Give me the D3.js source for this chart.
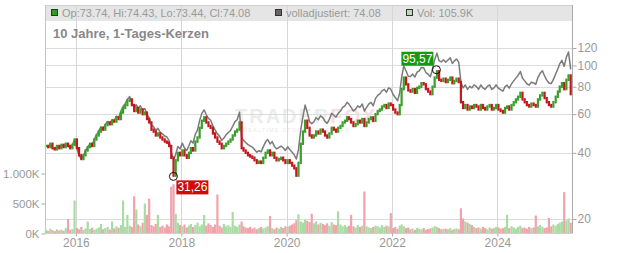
<!DOCTYPE html>
<html>
<head>
<meta charset="utf-8">
<script src="https://cdn.jsdelivr.net/npm/d3@7"></script>
<style>
  html, body { margin: 0; padding: 0; background: #fff; }
  svg { display: block; font-family: "Liberation Sans", Arial, sans-serif; }
</style>
</head>
<body>
<svg id="chart" width="632" height="253"></svg>
<script>
// half-monthly closes (1st and 16th of each month), Jun 2015 - May 2025
const closes2015 = [43, 42.5, 44, 42, 41.5, 43, 42, 43.5, 42.5, 44, 43, 42, 43.5, 46];
const closes2016 = [42, 39, 37.5, 39, 41, 42.5, 44, 43, 46, 48, 50, 52, 51, 53.5, 55, 54, 56, 55.5, 58, 57, 61, 64, 66, 69];
const closes2017 = [70, 66, 62, 64, 61, 63, 60, 61, 57, 55, 51, 50, 48, 49, 47, 46, 45, 44.5, 43, 38, 31.5, 37, 40, 39];
const closes2018 = [41, 39, 38, 40, 42, 41, 45, 47, 52, 56, 58, 55, 53, 52, 49, 47, 45, 44, 42, 43, 44, 45, 46, 48];
const closes2019 = [50, 51, 55, 42, 41, 40, 39, 38.5, 38, 37, 36, 36.5, 36, 38, 40, 41, 39, 40, 38, 37, 37.5, 38, 37, 36];
const closes2020 = [37, 36, 35, 34, 31.5, 36, 44, 50, 56, 52, 48, 47, 48, 50, 49, 51, 50, 48, 47, 49, 52, 51, 50, 52];
const closes2021 = [53, 55, 56, 58, 57, 55, 53, 54, 56, 55, 57, 53, 55, 57, 58, 56, 60, 62, 63, 65, 66, 64, 67, 66];
const closes2022 = [63, 61, 60, 66, 78, 88, 82, 77, 76, 78, 75, 79, 80, 83, 82, 78, 76, 74, 80, 88, 94, 86, 85, 87];
const closes2023 = [84, 86, 88, 83, 85, 87, 84, 68, 64, 66, 63, 65, 64, 66, 65, 63, 66, 64, 63, 65, 66, 63, 64, 66];
const closes2024 = [63, 62, 61, 64, 65, 63, 66, 68, 70, 72, 75, 70, 68, 66, 65, 67, 66, 65, 70, 73, 75, 71, 68, 66];
const closes2025 = [65, 68, 72, 76, 80, 83, 78, 86, 90, 74];

// "volladjustiert" line
const adj2015 = [43, 42.5, 44, 42, 41.5, 43, 42, 43.5, 42.5, 44, 43, 42, 43.5, 46];
const adj2016 = [42, 39, 37.5, 39, 41, 42.5, 44, 43.2, 46.2, 48.3, 50.4, 52.5, 51.5, 54, 55.6, 54.6, 56.7, 56.2, 58.8, 57.8, 61.9, 65, 67, 70.2];
const adj2017 = [72.1, 68, 64.2, 66.2, 63.4, 65.5, 62.4, 63.7, 59.6, 57.8, 53.6, 52.5, 50.6, 51.7, 49.6, 48.8, 47.7, 47.2, 45.6, 40.5, 37, 39.4, 42.8, 41.7];
const adj2018 = [44.3, 42.1, 41, 43.2, 45.4, 44.3, 48.6, 50.8, 56.2, 60.5, 62.8, 59.6, 57.4, 56.3, 53.1, 50.9, 48.8, 47.7, 45.6, 46.7, 48.4, 49.5, 50.6, 52.8];
const adj2019 = [55.5, 56.6, 61.3, 46.8, 45.7, 44.6, 43.6, 43, 42.5, 41.4, 40.3, 40.9, 40.4, 42.6, 44.9, 46, 43.9, 45, 42.8, 41.7, 42.3, 42.9, 42.2, 41];
const adj2020 = [42.6, 41.4, 40.3, 39.1, 37.5, 41.4, 51, 58.5, 66, 61, 55.4, 54.3, 55.4, 57.8, 56.6, 59, 57.9, 55.6, 54.5, 56.8, 60.5, 59.3, 58.2, 60.5];
const adj2021 = [62, 64.4, 65.5, 67.9, 66.7, 64.4, 62, 63.2, 65.5, 64.4, 66.7, 62, 64.4, 66.7, 67.9, 65.5, 70.6, 73, 74.2, 76.6, 77.8, 75.5, 79, 77.9];
const adj2022 = [73.7, 71.4, 69, 75.2, 88.1, 99.4, 94.3, 89.3, 88.9, 91.3, 88.5, 93.2, 94.4, 97.9, 97.6, 92.8, 91.2, 88.8, 96, 106.5, 113.7, 104.9, 103.7, 106.1];
const adj2023 = [103.3, 105.8, 108.2, 102.1, 104.6, 107, 103.3, 84, 79, 81.5, 77.8, 80.3, 79, 81.5, 80.3, 77.8, 81.5, 79, 77.8, 80.3, 81.5, 77.8, 79, 81.5];
const adj2024 = [78.8, 77.5, 76.3, 80, 81.3, 78.8, 82.5, 85, 87.5, 90, 93.8, 87.5, 85, 82.5, 81.3, 83.8, 83.2, 82, 88.2, 92, 94.5, 89.5, 85.7, 83.2];
const adj2025 = [82.6, 86.4, 91.4, 96.5, 101.6, 105.4, 99, 109, 115, 96];

// volume in thousands
const vol2015 = [60, 45, 80, 55, 40, 70, 50, 65, 45, 90, 240, 60, 75, 550];
const vol2016 = [90, 70, 110, 60, 85, 200, 75, 95, 60, 80, 100, 160, 70, 90, 110, 65, 200, 85, 120, 95, 140, 550, 110, 310];
const vol2017 = [130, 110, 620, 400, 150, 120, 180, 500, 310, 580, 140, 120, 160, 310, 110, 130, 100, 150, 120, 780, 820, 330, 180, 140];
const vol2018 = [120, 150, 100, 130, 160, 110, 140, 180, 120, 150, 310, 130, 170, 140, 110, 150, 650, 130, 100, 160, 120, 140, 110, 360];
const vol2019 = [130, 110, 150, 200, 120, 100, 90, 110, 80, 100, 70, 90, 110, 80, 100, 120, 290, 90, 70, 100, 80, 110, 90, 120];
const vol2020 = [110, 130, 150, 170, 220, 320, 200, 180, 230, 210, 190, 330, 170, 200, 150, 180, 160, 140, 170, 130, 190, 150, 140, 370];
const vol2021 = [150, 120, 140, 110, 130, 310, 120, 100, 140, 110, 130, 700, 120, 100, 90, 110, 130, 120, 100, 140, 110, 130, 120, 340];
const vol2022 = [90, 110, 80, 130, 150, 120, 90, 100, 70, 85, 60, 95, 80, 70, 90, 60, 75, 85, 100, 120, 110, 90, 70, 80];
const vol2023 = [80, 70, 90, 60, 75, 85, 70, 420, 250, 200, 180, 160, 140, 110, 90, 100, 80, 110, 90, 70, 100, 80, 90, 110];
const vol2024 = [100, 80, 90, 110, 310, 90, 120, 100, 80, 110, 130, 90, 100, 80, 110, 90, 100, 300, 120, 140, 110, 90, 100, 260];
const vol2025 = [120, 150, 130, 160, 180, 200, 690, 220, 250, 180];

const yearTicks = [2016, 2018, 2020, 2022, 2024];
const priceTicks = [20, 40, 60, 80, 100, 120];
const volumeTicks = [0, 500, 1000];
const volumeTickLabels = ['0K', '500K', '1.000K'];

const legendItems = [
  {text: 'Op:73.74, Hi:74.43, Lo:73.44, Cl:74.08', color: '#2e9e22', x: 51},
  {text: 'volladjustiert: 74.08', color: '#666666', x: 275},
  {text: 'Vol: 105.9K', color: '#b4e0ae', x: 406}
];
const title = '10 Jahre, 1-Tages-Kerzen';

const extremes = [
  {date: new Date(2017, 10, 7), value: 31.26, label: '31,26', kind: 'low'},
  {date: new Date(2022, 10, 4), value: 95.57, label: '95,57', kind: 'high'}
];

const closes = [].concat(closes2015, closes2016, closes2017, closes2018, closes2019, closes2020,
  closes2021, closes2022, closes2023, closes2024, closes2025);
const adjusted = [].concat(adj2015, adj2016, adj2017, adj2018, adj2019, adj2020,
  adj2021, adj2022, adj2023, adj2024, adj2025);
const volumes = [].concat(vol2015, vol2016, vol2017, vol2018, vol2019, vol2020,
  vol2021, vol2022, vol2023, vol2024, vol2025);

const rows = closes.map((c, i) => {
  const d = new Date(2015, 5 + Math.floor(i / 2), i % 2 ? 16 : 1);
  return {
    date: d3.timeDay.offset(d, 7),
    open: i === 0 ? c : closes[i - 1],
    close: c,
    adj: adjusted[i],
    vol: volumes[i]
  };
});

const plotLeft = 45, plotRight = 572, plotTop = 5, plotBottom = 233.5;
const svg = d3.select('#chart');

const x = d3.scaleTime()
  .domain([new Date(2015, 5, 1), new Date(2025, 5, 1)])
  .range([plotLeft, plotRight]);
const y = d3.scaleLog().domain([20, 120]).range([219, 48]);
const yv = d3.scaleLinear().domain([0, 1000]).range([plotBottom, 173.5]);

const GREEN = '#3a9e2a', RED = '#c8141c';

// header band
svg.append('rect')
  .attr('x', plotLeft).attr('y', plotTop)
  .attr('width', plotRight - plotLeft).attr('height', 16)
  .attr('fill', '#e5e5e5');

// watermark
const wm = svg.append('g').attr('opacity', 0.9);
wm.append('text')
  .attr('x', 235).attr('y', 123)
  .attr('font-size', 20).attr('font-weight', 'bold')
  .attr('letter-spacing', 2)
  .attr('fill', '#ebebeb')
  .text('TRADER')
  .append('tspan').attr('fill', '#f8dcdc').text('FOX');
wm.append('text')
  .attr('x', 243).attr('y', 132)
  .attr('font-size', 5.5).attr('letter-spacing', 1.2)
  .attr('fill', '#e8e8e8')
  .text('REALTIME STOCK SCREENER');

// grid
svg.append('g').selectAll('line')
  .data(priceTicks)
  .enter().append('line')
  .attr('x1', plotLeft).attr('x2', plotRight)
  .attr('y1', d => Math.round(y(d)) + 0.5).attr('y2', d => Math.round(y(d)) + 0.5)
  .attr('stroke', '#dcdcdc');

svg.append('g').selectAll('line')
  .data(yearTicks)
  .enter().append('line')
  .attr('x1', d => Math.round(x(new Date(d, 0, 1))) + 0.5)
  .attr('x2', d => Math.round(x(new Date(d, 0, 1))) + 0.5)
  .attr('y1', plotTop).attr('y2', plotBottom)
  .attr('stroke', '#d6d6d6');

// volume
svg.append('g').selectAll('rect')
  .data(rows)
  .enter().append('rect')
  .attr('x', d => x(d.date) - 1.1)
  .attr('y', d => yv(d.vol))
  .attr('width', 2.2)
  .attr('height', d => plotBottom - yv(d.vol))
  .attr('fill', d => d.close >= d.open ? '#a9dca2' : '#f0a3ab');

// adjusted line
svg.append('path')
  .datum(rows)
  .attr('fill', 'none')
  .attr('stroke', '#7a7a7a')
  .attr('stroke-width', 1.5)
  .attr('stroke-linejoin', 'round')
  .attr('d', d3.line().x(d => x(d.date)).y(d => y(d.adj)));

// candles
svg.append('g').selectAll('rect')
  .data(rows)
  .enter().append('rect')
  .attr('x', d => x(d.date) - 1.1)
  .attr('width', 2.2)
  .attr('y', d => y(Math.max(d.open, d.close)) - 1.2)
  .attr('height', d => Math.abs(y(d.open) - y(d.close)) + 2.4)
  .attr('fill', d => d.close >= d.open ? GREEN : RED);

// frame
svg.append('line').attr('x1', plotLeft).attr('x2', plotRight).attr('y1', plotTop + 0.5).attr('y2', plotTop + 0.5).attr('stroke', '#cfcfcf');
svg.append('line').attr('x1', plotLeft + 0.5).attr('x2', plotLeft + 0.5).attr('y1', plotTop).attr('y2', plotBottom).attr('stroke', '#c4c4c4');
svg.append('line').attr('x1', plotRight + 0.5).attr('x2', plotRight + 0.5).attr('y1', plotTop).attr('y2', plotBottom).attr('stroke', '#aaa');
svg.append('line').attr('x1', plotLeft).attr('x2', plotRight).attr('y1', plotBottom).attr('y2', plotBottom).attr('stroke', '#cfcfcf');

// axes
function styleAxis(g, size) {
  g.select('.domain').remove();
  g.selectAll('.tick line').attr('stroke', '#aaa');
  g.selectAll('.tick text').attr('fill', '#999').attr('font-size', size);
  g.attr('font-family', null);
}

svg.append('g')
  .attr('transform', 'translate(' + (plotRight + 0.5) + ',0)')
  .call(d3.axisRight(y).tickValues(priceTicks).tickSize(4).tickPadding(1).tickFormat(d3.format('d')))
  .call(g => styleAxis(g, 12));

svg.append('g')
  .attr('transform', 'translate(' + (plotLeft + 0.5) + ',0)')
  .call(d3.axisLeft(yv).tickValues(volumeTicks).tickSize(4).tickPadding(2)
    .tickFormat((d, i) => volumeTickLabels[i]))
  .call(g => styleAxis(g, 11.5));

svg.append('g')
  .attr('transform', 'translate(0,' + plotBottom + ')')
  .call(d3.axisBottom(x).tickValues(yearTicks.map(d => new Date(d, 0, 1)))
    .tickSize(3).tickPadding(2).tickFormat(d3.timeFormat('%Y')))
  .call(g => styleAxis(g, 12));

// extremes
extremes.forEach(e => {
  const cx = x(e.date), cy = y(e.value);
  svg.append('circle')
    .attr('cx', cx).attr('cy', cy).attr('r', 4)
    .attr('fill', 'none').attr('stroke', '#111').attr('stroke-width', 1);
  const w = 32, h = 14;
  const bx = e.kind === 'low' ? cx + 3 : cx - 3 - w;
  const by = e.kind === 'low' ? cy + 4 : cy - 4 - h;
  svg.append('rect')
    .attr('x', bx).attr('y', by).attr('width', w).attr('height', h)
    .attr('fill', e.kind === 'low' ? '#d10a0a' : '#14990f');
  svg.append('text')
    .attr('x', bx + w / 2).attr('y', by + 11)
    .attr('text-anchor', 'middle')
    .attr('font-size', 12).attr('fill', '#fff')
    .text(e.label);
});

// legend
legendItems.forEach(item => {
  svg.append('rect')
    .attr('x', item.x + 0.5).attr('y', 9.5).attr('width', 6).attr('height', 6)
    .attr('fill', item.color).attr('stroke', '#333').attr('stroke-width', 1);
  svg.append('text')
    .attr('x', item.x + 11).attr('y', 17)
    .attr('font-size', 11).attr('fill', '#9a9a9a')
    .text(item.text);
});

svg.append('text')
  .attr('x', 53).attr('y', 37.5)
  .attr('font-size', 13).attr('font-weight', 'bold').attr('fill', '#888')
  .text(title);
</script>
</body>
</html>
